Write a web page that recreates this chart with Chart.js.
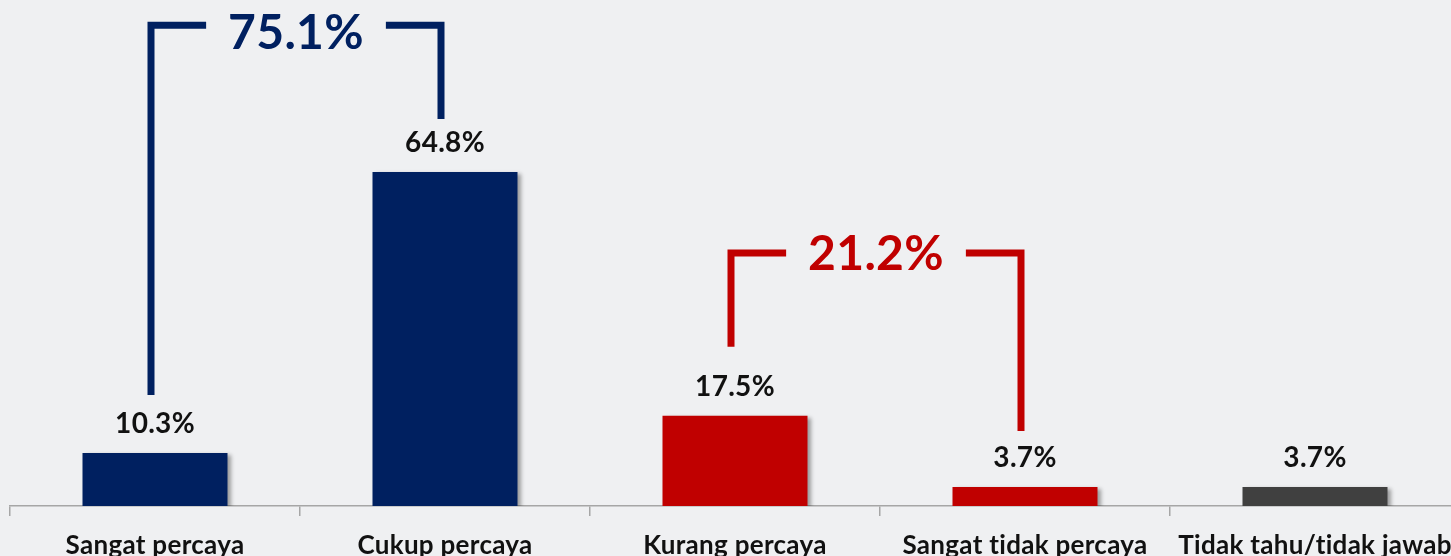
<!DOCTYPE html>
<html><head><meta charset="utf-8">
<script src="https://cdn.jsdelivr.net/npm/chart.js@4/dist/chart.umd.min.js"></script>
<style>
html,body{margin:0;padding:0;overflow:hidden;background:#eff0f2;}
#wrap{position:relative;width:1451px;height:556px;overflow:hidden;background:#eff0f2;}
#wrap canvas{position:absolute;left:0;top:0;}
</style></head><body>
<div id="wrap"><canvas id="c" width="1470" height="570" style="width:1470px;height:570px"></canvas></div>
<script>
const categories = ['Sangat percaya','Cukup percaya','Kurang percaya','Sangat tidak percaya','Tidak tahu/tidak jawab'];
const values = [10.3, 64.8, 17.5, 3.7, 3.7];
const barColors = ['#002060','#002060','#C00000','#C00000','#404040'];
const groupLabels = ['75.1%','21.2%'];
const groupFrom = [0, 2];
const groupTo = [1, 3];

const FONT = "Lato, 'Open Sans', sans-serif";

const noLig = {
  id:'noLig',
  beforeInit(chart){ try{ chart.ctx.letterSpacing='0.3px'; }catch(e){} },
  beforeDraw(chart){ try{ chart.ctx.letterSpacing='0.3px'; }catch(e){} }
};

const barShadow = {
  id:'barShadow',
  beforeDatasetsDraw(chart){
    const c = chart.ctx; c.save();
    c.shadowColor='rgba(0,0,0,0.35)'; c.shadowBlur=4; c.shadowOffsetX=3; c.shadowOffsetY=2;
  },
  afterDatasetsDraw(chart){ chart.ctx.restore(); }
};

const valueLabels = {
  id:'valueLabels',
  afterDatasetsDraw(chart){
    const c = chart.ctx; const meta = chart.getDatasetMeta(0);
    c.save();
    c.font = "bold 28px " + FONT; c.fillStyle='#111'; c.textAlign='center'; c.textBaseline='alphabetic';
    meta.data.forEach((el,i)=>{ c.fillText(values[i].toFixed(1)+'%', el.x, el.y-20); });
    c.restore();
  }
};

const brackets = {
  id:'brackets',
  afterDatasetsDraw(chart, args, opts){
    const c = chart.ctx; const xs = chart.scales.x, ys = chart.scales.y;
    opts.groups.forEach((g,k)=>{
      const a = groupFrom[k], b = groupTo[k];
      const x1 = xs.getPixelForValue(a) + g.dx, x2 = xs.getPixelForValue(b) + g.dx;
      const yt = ys.getPixelForValue(g.level);
      const y1 = ys.getPixelForValue(values[a]) - g.gapA;
      const y2 = ys.getPixelForValue(values[b]) - g.gapB;
      c.save();
      c.font = "bold 48px " + FONT;
      const tw = c.measureText(groupLabels[k]).width;
      const mx = (x1+x2)/2;
      c.strokeStyle = g.color; c.lineWidth = 7; c.lineJoin='miter'; c.lineCap='butt';
      c.beginPath(); c.moveTo(x1,y1); c.lineTo(x1,yt); c.lineTo(mx - tw/2 - 22, yt); c.stroke();
      c.beginPath(); c.moveTo(mx + tw/2 + 22, yt); c.lineTo(x2,yt); c.lineTo(x2,y2); c.stroke();
      c.fillStyle = g.color; c.textAlign='center'; c.textBaseline='alphabetic';
      c.fillText(groupLabels[k], mx, yt + g.textDy);
      c.restore();
    });
  }
};

new Chart(document.getElementById('c'), {
  type:'bar',
  data:{ labels:categories, datasets:[{ data:values, backgroundColor:barColors, borderWidth:0, categoryPercentage:0.5, barPercentage:1 }]},
  options:{
    responsive:false, animation:false, devicePixelRatio:1,
    layout:{padding:{left:10,right:10,top:0,bottom:0}},
    plugins:{ legend:{display:false}, tooltip:{enabled:false},
      brackets:{ groups:[
        {color:'#002060', level:93.3, dx:-4, gapA:58, gapB:53, textDy:24},
        {color:'#C00000', level:49.1, dx:-4, gapA:69, gapB:56, textDy:17}
      ]}
    },
    scales:{
      x:{
        afterFit(s){ s.height = 64; },
        border:{display:true,color:'#a6a6a6',width:1.5},
        grid:{drawOnChartArea:false, drawTicks:true, tickLength:10, color:'#a6a6a6', lineWidth:1.5, offset:true},
        ticks:{ color:'#111', font:{family:FONT, size:26, weight:'bold'}, padding:14, maxRotation:0, autoSkip:false }
      },
      y:{ display:false, min:0, max:98.2 }
    }
  },
  plugins:[noLig, barShadow, valueLabels, brackets]
});
</script>
</body></html>
